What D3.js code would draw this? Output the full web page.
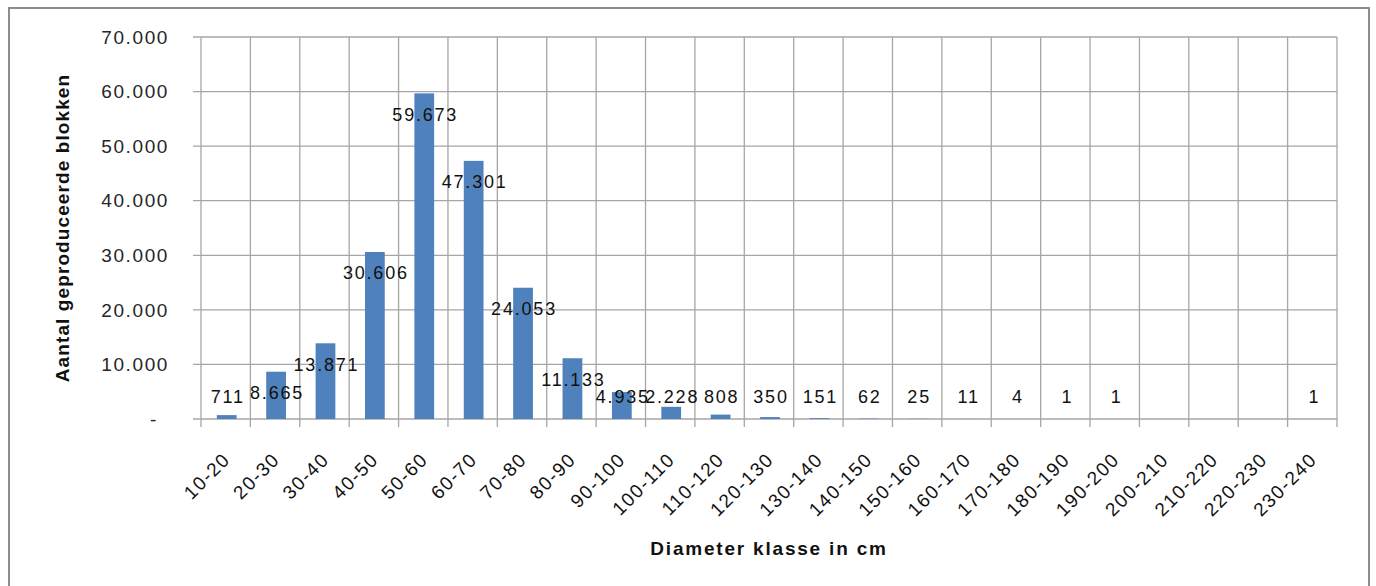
<!DOCTYPE html>
<html>
<head>
<meta charset="utf-8">
<script src="https://cdn.jsdelivr.net/npm/d3@7"></script>
<style>
  body { margin: 0; background: #fff; }
  svg { display: block; font-family: "Liberation Sans", Arial, sans-serif; }
</style>
</head>
<body>
<div id="chart"></div>
<script>
const categories = ["10-20", "20-30", "30-40", "40-50", "50-60", "60-70", "70-80", "80-90",
    "90-100", "100-110", "110-120", "120-130", "130-140", "140-150", "150-160", "160-170",
    "170-180", "180-190", "190-200", "200-210", "210-220", "220-230", "230-240"];
const blocks = [711, 8665, 13871, 30606, 59673, 47301, 24053, 11133,
    4935, 2228, 808, 350, 151, 62, 25, 11,
    4, 1, 1, null, null, null, 1];
const yTicks = [0, 10000, 20000, 30000, 40000, 50000, 60000, 70000];

const width = 1376, height = 586;
const plot = { left: 201, right: 1337, top: 37, bottom: 419 };

const svg = d3.select("#chart").append("svg")
    .attr("width", width)
    .attr("height", height);

// outer frame
svg.append("rect")
    .attr("x", 9).attr("y", 8)
    .attr("width", 1360).attr("height", 600)
    .attr("fill", "none")
    .attr("stroke", "#8c8c8c")
    .attr("stroke-width", 2);

const x = d3.scaleBand()
    .domain(categories)
    .range([plot.left, plot.right])
    .padding(0);

const y = d3.scaleLinear()
    .domain([0, 70000])
    .range([plot.bottom, plot.top]);

const fmt = v => v === 0 ? "-" : d3.format(",")(v).replace(/,/g, ".");
const gridColor = "#a6a6a6";

// horizontal gridlines + outward ticks
svg.append("g").selectAll("line")
    .data(yTicks)
    .enter().append("line")
    .attr("x1", plot.left - 8).attr("x2", plot.right)
    .attr("y1", d => y(d)).attr("y2", d => y(d))
    .attr("stroke", gridColor).attr("stroke-width", 1.3);

// vertical gridlines at category boundaries, with ticks below axis
const edges = categories.map(c => x(c)).concat([plot.right]);
svg.append("g").selectAll("line")
    .data(edges)
    .enter().append("line")
    .attr("x1", d => d).attr("x2", d => d)
    .attr("y1", plot.top).attr("y2", plot.bottom + 8)
    .attr("stroke", gridColor).attr("stroke-width", 1.3);

// y tick labels
svg.append("g").selectAll("text")
    .data(yTicks)
    .enter().append("text")
    .attr("x", d => d === 0 ? 158 : 169)
    .attr("y", d => y(d))
    .attr("dy", "0.35em")
    .attr("text-anchor", "end")
    .attr("font-size", 19)
    .attr("letter-spacing", 1.6)
    .attr("fill", "#262626")
    .text(fmt);

// bars
const barW = x.bandwidth() * 0.4;
const series = categories.map((c, i) => ({ cat: c, value: blocks[i] }));

svg.append("g").selectAll("rect")
    .data(series.filter(d => d.value != null))
    .enter().append("rect")
    .attr("x", d => x(d.cat) + (x.bandwidth() - barW) / 2 + 1)
    .attr("y", d => y(d.value))
    .attr("width", barW)
    .attr("height", d => plot.bottom - y(d.value))
    .attr("fill", "#4f81bd");

// data labels (inside end, kept above the axis)
svg.append("g").selectAll("text")
    .data(series.filter(d => d.value != null))
    .enter().append("text")
    .attr("x", d => x(d.cat) + x.bandwidth() / 2 + 2)
    .attr("y", d => Math.min(y(d.value) + 21, 397))
    .attr("dy", "0.35em")
    .attr("text-anchor", "middle")
    .attr("font-size", 18)
    .attr("letter-spacing", 1.8)
    .attr("fill", "#111")
    .text(d => fmt(d.value));

// x tick labels rotated
svg.append("g").selectAll("text")
    .data(categories)
    .enter().append("text")
    .attr("transform", c => `translate(${x(c) + x.bandwidth() / 2 + 1},${plot.bottom + 37}) rotate(-45)`)
    .attr("text-anchor", "end")
    .attr("dy", "0.35em")
    .attr("font-size", 19)
    .attr("letter-spacing", 1.5)
    .attr("fill", "#111")
    .text(c => c);

// axis titles
svg.append("text")
    .attr("x", (plot.left + plot.right) / 2)
    .attr("y", 555)
    .attr("text-anchor", "middle")
    .attr("font-size", 19)
    .attr("font-weight", "bold")
    .attr("letter-spacing", 1.8)
    .attr("fill", "#111")
    .text("Diameter klasse  in cm");

svg.append("text")
    .attr("transform", `translate(62,${(plot.top + plot.bottom) / 2}) rotate(-90)`)
    .attr("text-anchor", "middle")
    .attr("dy", "0.35em")
    .attr("font-size", 19)
    .attr("font-weight", "bold")
    .attr("letter-spacing", 1.1)
    .attr("fill", "#111")
    .text("Aantal geproduceerde blokken");
</script>
</body>
</html>
